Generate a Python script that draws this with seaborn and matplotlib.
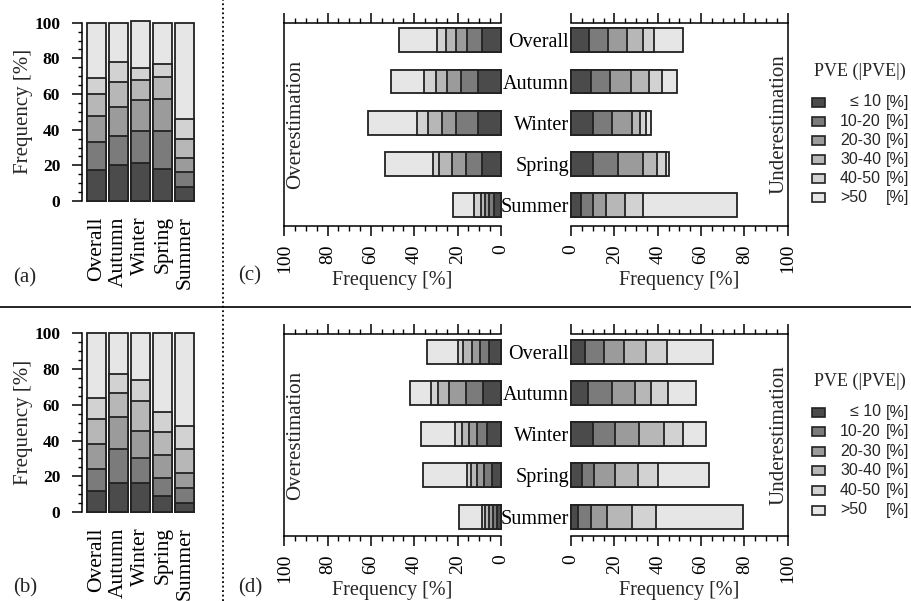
import numpy as np
import pandas as pd
import matplotlib
matplotlib.use("Agg")
import matplotlib.pyplot as plt
import seaborn as sns
from matplotlib.lines import Line2D
from matplotlib.patches import Rectangle
from matplotlib.ticker import MultipleLocator

# ---------------- data ----------------
seasons = ["Overall", "Autumn", "Winter", "Spring", "Summer"]
classes = ["\u2264 10", "10-20", "20-30", "30-40", "40-50", ">50"]

# rows: seasons, columns: PVE classes (<=10, 10-20, 20-30, 30-40, 40-50, >50) [%]
a_freq = [[17.4, 15.5, 15.0, 12.1, 8.8, 31.2],
          [20.2, 16.2, 16.5, 14.0, 10.9, 22.2],
          [21.5, 17.8, 17.3, 11.3, 6.9, 26.2],
          [17.9, 21.4, 17.9, 12.5, 6.9, 23.4],
          [7.7, 8.4, 7.8, 10.7, 11.6, 53.8]]
b_freq = [[11.8, 12.1, 14.0, 14.2, 11.9, 36.0],
          [16.4, 18.9, 18.1, 13.0, 10.8, 22.8],
          [16.4, 13.6, 15.5, 16.6, 11.8, 26.1],
          [9.1, 9.7, 13.1, 13.1, 11.2, 43.8],
          [5.0, 8.2, 8.8, 13.1, 13.2, 51.7]]
c_over = [[8.6, 7.1, 5.1, 4.7, 4.0, 17.4],
          [10.8, 7.7, 6.6, 5.1, 5.2, 15.2],
          [10.8, 10.1, 6.2, 6.7, 5.1, 22.3],
          [8.6, 7.7, 6.5, 5.8, 2.9, 21.9],
          [3.2, 2.3, 1.9, 2.0, 3.1, 9.8]]
c_under = [[8.5, 8.7, 8.8, 7.1, 5.2, 13.5],
           [9.2, 8.8, 9.5, 8.7, 5.6, 7.3],
           [10.0, 8.8, 9.2, 3.8, 2.7, 2.3],
           [10.0, 11.5, 11.6, 6.4, 4.2, 1.7],
           [4.5, 5.8, 5.7, 8.9, 8.5, 43.1]]
d_over = [[5.4, 4.3, 3.8, 4.2, 2.0, 14.3],
          [8.2, 8.1, 7.5, 5.1, 3.6, 9.5],
          [6.3, 4.6, 3.7, 3.6, 2.9, 15.8],
          [4.3, 3.5, 3.4, 2.6, 2.0, 20.4],
          [2.0, 1.8, 1.7, 1.7, 1.6, 10.7]]
d_under = [[6.5, 8.7, 9.4, 9.9, 9.7, 21.5],
           [8.0, 10.8, 10.7, 7.3, 8.1, 12.8],
           [10.0, 10.3, 11.1, 11.5, 8.9, 10.4],
           [4.9, 5.9, 9.5, 10.8, 9.2, 23.4],
           [3.1, 6.1, 7.6, 11.5, 10.8, 40.1]]

shades = ["#4b4b4b", "#7b7b7b", "#9b9b9b", "#b7b7b7", "#d2d2d2", "#e6e6e6"]
edge = "#222222"

# ---------------- style ----------------
sns.set_style("white")
plt.rcParams["font.family"] = ["Liberation Serif", "DejaVu Serif"]
plt.rcParams["axes.linewidth"] = 1.1
plt.rcParams["xtick.color"] = "black"
plt.rcParams["ytick.color"] = "black"

W, H = 912, 601
fig = plt.figure(figsize=(W / 100, H / 100), dpi=100)


def rect(x0, x1, y0, y1):
    return [x0 / W, 1 - y1 / H, (x1 - x0) / W, (y1 - y0) / H]


def stack(ax, table, horizontal, width):
    cum = np.cumsum(np.array(table, dtype=float), axis=1)
    for k in range(len(classes) - 1, -1, -1):
        df = pd.DataFrame({"season": seasons, "freq": cum[:, k]})
        kw = dict(data=df, color=shades[k], saturation=1, width=width,
                  edgecolor=edge, linewidth=1.3, errorbar=None, ax=ax)
        if horizontal:
            sns.barplot(x="freq", y="season", orient="h", **kw)
        else:
            sns.barplot(x="season", y="freq", **kw)
    for p in ax.patches:
        p.set_clip_on(False)
    ax.set_xlabel("")
    ax.set_ylabel("")


def column_panel(table, ytop, ybot, tag, tag_y):
    ax = fig.add_axes(rect(81.7, 196.8, ytop, ybot))
    ax.set_facecolor("none")
    stack(ax, table, False, 0.86)
    ax.set_xlim(-0.68, 4.55)
    ax.set_ylim(0, 100)
    for s in ["top", "right", "bottom"]:
        ax.spines[s].set_visible(False)
    ax.spines["left"].set_color("black")
    ax.yaxis.set_major_locator(MultipleLocator(20))
    ax.yaxis.set_minor_locator(MultipleLocator(5))
    ax.tick_params(axis="y", which="major", length=7.5, width=1.1,
                   direction="out", left=True, pad=8, labelsize=12.5)
    ax.tick_params(axis="y", which="minor", length=3, width=1.0,
                   direction="out", left=True)
    for t in ax.get_yticklabels():
        t.set_fontweight("bold")
    ax.set_xticks(range(len(seasons)))
    ax.set_xticklabels(seasons, rotation=90, fontsize=15.5)
    ax.tick_params(axis="x", length=0, pad=11)
    fig.text(24 / W, 1 - ((ytop + ybot) / 2) / H, "Frequency [%]",
             rotation=90, ha="center", va="center", fontsize=15)
    fig.text(25 / W, 1 - tag_y / H, tag, ha="center", va="center", fontsize=15)


def bar_panels(over, under, ytop, ybot, ylim, tag, tag_y, label_y):
    axl = fig.add_axes(rect(284.3, 501.0, ytop, ybot))
    axr = fig.add_axes(rect(571.0, 787.7, ytop, ybot))
    for ax in (axl, axr):
        ax.set_facecolor("none")
    stack(axl, over, True, 0.58)
    stack(axr, under, True, 0.58)
    axl.set_xlim(100, 0)
    axr.set_xlim(0, 100)
    for ax, hide in ((axl, "right"), (axr, "left")):
        ax.set_ylim(*ylim)
        ax.spines[hide].set_visible(False)
        for s in ax.spines.values():
            s.set_color("black")
        ax.xaxis.set_major_locator(MultipleLocator(20))
        ax.xaxis.set_minor_locator(MultipleLocator(5))
        ax.tick_params(axis="x", which="major", length=7, width=1.1,
                       direction="out", top=True, bottom=True,
                       labeltop=False, labelbottom=True,
                       labelrotation=90, labelsize=14, pad=6)
        ax.tick_params(axis="x", which="minor", length=3.5, width=1.0,
                       direction="out", top=True, bottom=True)
        fig.text(((284.3 + 501.0) / 2 if ax is axl else (571.0 + 787.7) / 2) / W,
                 1 - label_y / H, "Frequency [%]", ha="center", va="center",
                 fontsize=14.5)
    axl.set_yticks([])
    axr.set_yticks(range(len(seasons)))
    axr.set_yticklabels(seasons, fontsize=14.5)
    axr.tick_params(axis="y", length=0, pad=1.5, left=True)
    axl.text(0.05, 0.5, "Overestimation", transform=axl.transAxes,
             rotation=90, ha="center", va="center", fontsize=15)
    axr.text(0.96, 0.5, "Underestimation", transform=axr.transAxes,
             rotation=90, ha="center", va="center", fontsize=15)
    fig.text(250 / W, 1 - tag_y / H, tag, ha="center", va="center", fontsize=15)


def legend_block(ytitle, y0, step):
    fig.text(860 / W, 1 - ytitle / H, "PVE (|PVE|)", ha="center",
             va="center", fontsize=13)
    for i, (lab, col) in enumerate(zip(classes, shades)):
        yc = y0 + i * step
        fig.add_artist(Rectangle((812 / W, 1 - (yc + 4.5) / H), 13 / W, 9 / H,
                                 transform=fig.transFigure, facecolor=col,
                                 edgecolor=edge, lw=1.2))
        if lab.startswith(">"):
            fig.text(840 / W, 1 - yc / H, lab, ha="left", va="center",
                     family="Liberation Sans", fontsize=11.5)
        else:
            fig.text(881 / W, 1 - yc / H, lab, ha="right", va="center",
                     family="Liberation Sans", fontsize=11.5)
        fig.text(886 / W, 1 - yc / H, "[%]", ha="left", va="center",
                 family="Liberation Sans", fontsize=11.5)


# top row
column_panel(a_freq, 22.7, 201.0, "(a)", 278)
bar_panels(c_over, c_under, 22.7, 226.0, (4.51, -0.43), "(c)", 276, 280)
legend_block(71, 102, 19.2)

# bottom row
column_panel(b_freq, 333.3, 512.0, "(b)", 588)
bar_panels(d_over, d_under, 334.0, 536.0, (4.47, -0.43), "(d)", 588, 590)
legend_block(381, 412, 19.6)

# separators
fig.add_artist(Line2D([223 / W, 223 / W], [0, 1], transform=fig.transFigure,
                      color="black", lw=1.3, linestyle=(0, (1, 1.5))))
fig.add_artist(Line2D([0, 1], [1 - 307 / H, 1 - 307 / H],
                      transform=fig.transFigure, color="black", lw=1.2))

fig.savefig("out.png", dpi=100)
